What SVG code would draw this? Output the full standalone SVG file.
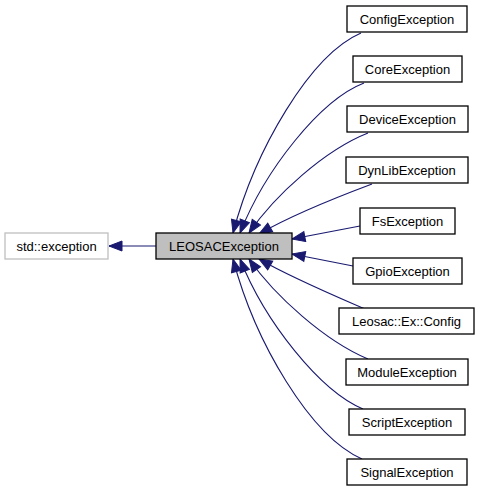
<svg xmlns="http://www.w3.org/2000/svg" width="480" height="493" viewBox="0 0 480 493">
<style>
.n rect{fill:#fff;stroke:#000;stroke-width:1.3}
.n text{font-family:"Liberation Sans",Arial,sans-serif;font-size:13px;text-anchor:middle;fill:#000}
.e path{fill:none;stroke:#191970;stroke-width:1.1}
</style>
<defs>
<marker id="a" markerUnits="userSpaceOnUse" markerWidth="16" markerHeight="14" refX="14" refY="6" orient="auto" viewBox="0 0 16 12">
<path d="M1,1 L14,6 L1,11 Z" fill="#191970" stroke="#191970" stroke-width="1"/>
</marker>
</defs>
<rect width="480" height="493" fill="#fff"/>
<g class="e" id="edges">
<path d="M156,246 L109,246" marker-end="url(#a)"/>
<path d="M361,33 C310,55 255,150 233,233" marker-end="url(#a)"/>
<path d="M364,83 C320,100 265,170 240,233" marker-end="url(#a)"/>
<path d="M368,133 C325,150 275,195 249,233" marker-end="url(#a)"/>
<path d="M372,184 C340,196 290,216 259,234" marker-end="url(#a)"/>
<path d="M360,226 L292,239" marker-end="url(#a)"/>
<path d="M353,266 L292,254" marker-end="url(#a)"/>
<path d="M365,309 C335,296 290,277 259,259" marker-end="url(#a)"/>
<path d="M368,359 C325,341 275,296 249,259" marker-end="url(#a)"/>
<path d="M363,409 C320,391 265,322 240,259" marker-end="url(#a)"/>
<path d="M362,459 C310,436 255,342 233,259" marker-end="url(#a)"/>
</g>
<g class="n" id="std_exception"><rect x="5" y="233" width="103" height="26" style="stroke:#bfbfbf"/><text x="56.5" y="251">std::exception</text></g>
<g class="n" id="LEOSACException"><rect x="156" y="233" width="136" height="26" style="fill:#bfbfbf"/><text x="224" y="251">LEOSACException</text></g>
<g class="n" id="ConfigException"><rect x="347" y="6" width="120" height="26"/><text x="407" y="24">ConfigException</text></g>
<g class="n" id="CoreException"><rect x="353" y="56" width="109" height="26"/><text x="407.5" y="74">CoreException</text></g>
<g class="n" id="DeviceException"><rect x="347" y="106" width="121" height="26"/><text x="407.5" y="124">DeviceException</text></g>
<g class="n" id="DynLibException"><rect x="346" y="157" width="122" height="26"/><text x="407" y="175">DynLibException</text></g>
<g class="n" id="FsException"><rect x="360" y="208" width="95" height="26"/><text x="407.5" y="226">FsException</text></g>
<g class="n" id="GpioException"><rect x="353" y="258" width="109" height="26"/><text x="407.5" y="276">GpioException</text></g>
<g class="n" id="Leosac_Ex_Config"><rect x="339" y="308" width="135" height="26"/><text x="406.5" y="326">Leosac::Ex::Config</text></g>
<g class="n" id="ModuleException"><rect x="346" y="359" width="122" height="26"/><text x="407" y="377">ModuleException</text></g>
<g class="n" id="ScriptException"><rect x="349" y="409" width="116" height="26"/><text x="407" y="427">ScriptException</text></g>
<g class="n" id="SignalException"><rect x="347" y="459" width="120" height="26"/><text x="407" y="477">SignalException</text></g>
</svg>
